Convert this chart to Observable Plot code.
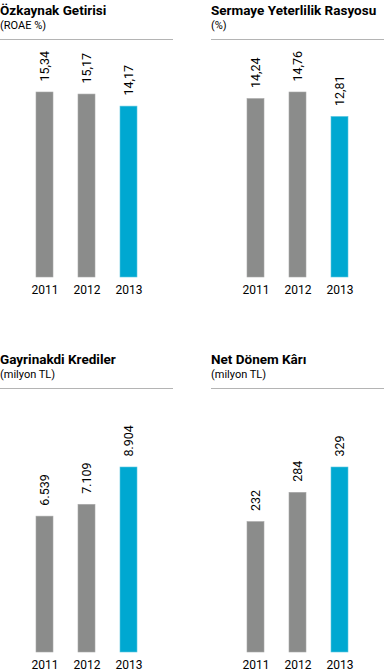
<!DOCTYPE html>
<html>
<head>
<meta charset="utf-8">
<script src="https://cdn.jsdelivr.net/npm/d3@7"></script>
<script src="https://cdn.jsdelivr.net/npm/@observablehq/plot@0.6"></script>
<style>
  body { margin: 0; background: #fff; font-family: Roboto, "Noto Sans", sans-serif; color: #000; }
  #root { position: relative; width: 384px; height: 672px; overflow: hidden; }
  .panel { position: absolute; width: 173px; }
  .title { position: absolute; left: 0; font-weight: bold; font-size: 13.5px; line-height: 16px; white-space: nowrap; }
  .sub { position: absolute; left: 0; font-size: 11px; line-height: 14px; white-space: nowrap; }
  .rule { position: absolute; left: 0; width: 173px; height: 0; border-top: 1.5px solid #b4b4b4; }
  .chart { position: absolute; left: 0; }
</style>
</head>
<body>
<div id="root"></div>
<script>
const years = ["2011", "2012", "2013"];
const roae = [15.34, 15.17, 14.17];
const capitalRatio = [14.24, 14.76, 12.81];
const nonCashLoans = [6539, 7109, 8904];
const netProfit = [232, 284, 329];
const titles = ["Özkaynak Getirisi", "Sermaye Yeterlilik Rasyosu", "Gayrinakdi Krediler", "Net Dönem Kârı"];
const subtitles = ["(ROAE %)", "(%)", "(milyon TL)", "(milyon TL)"];
const highlightYear = "2013";

const tr = d3.formatLocale({decimal: ",", thousands: ".", grouping: [3], currency: ["", " TL"]});
const fmtDec = tr.format(".2f");
const fmtInt = tr.format(",d");

const panels = [
  {values: roae, fmt: fmtDec, left: 0, top: 0, svgH: 260, mt: 51, mb: 24},
  {values: capitalRatio, fmt: fmtDec, left: 211, top: 0, svgH: 260, mt: 51, mb: 24},
  {values: nonCashLoans, fmt: fmtInt, left: 0, top: 349, svgH: 282, mt: 77, mb: 20},
  {values: netProfit, fmt: fmtInt, left: 211, top: 349, svgH: 282, mt: 77, mb: 20}
];

const root = document.getElementById("root");
panels.forEach((p, i) => {
  const div = document.createElement("div");
  div.className = "panel";
  div.style.left = p.left + "px";
  div.style.top = p.top + "px";
  div.style.height = (41 + p.svgH) + "px";
  div.innerHTML = `<div class="title" style="top:2px">${titles[i]}</div>
    <div class="sub" style="top:19px">${subtitles[i]}</div>
    <div class="rule" style="top:39px"></div>`;
  const data = years.map((y, k) => ({year: y, value: p.values[k]}));
  const chart = Plot.plot({
    width: 173,
    height: p.svgH,
    marginLeft: 11,
    marginRight: 11,
    marginTop: p.mt,
    marginBottom: p.mb,
    style: {fontFamily: "Roboto, 'Noto Sans', sans-serif", fontSize: "12px", color: "#000", background: "transparent"},
    x: {domain: years, padding: 0.595, label: null, tickSize: 0, tickPadding: 8},
    y: {domain: [0, d3.max(p.values)], axis: null},
    color: {domain: [false, true], range: ["#8b8c8b", "#00a8d1"]},
    marks: [
      Plot.barY(data, {x: "year", y: "value", fill: d => d.year === highlightYear, stroke: d => d.year === highlightYear ? "#5cc6e0" : "#a9a9a9", strokeWidth: 0.6}),
      Plot.text(data, {x: "year", y: "value", text: d => p.fmt(d.value), rotate: -90, textAnchor: "start", dy: -11, fontSize: 12.5, fill: "#000"})
    ]
  });
  chart.classList.add("chart");
  chart.style.top = "41px";
  chart.style.position = "absolute";
  div.appendChild(chart);
  root.appendChild(div);
});
</script>
</body>
</html>
